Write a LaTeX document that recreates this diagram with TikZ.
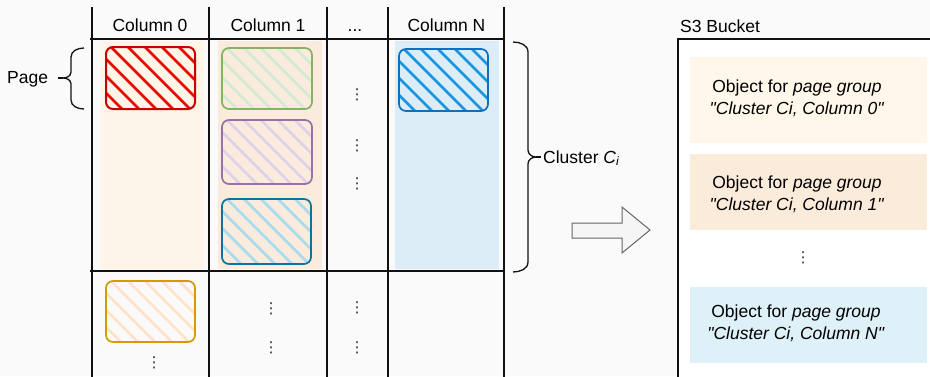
\documentclass[tikz,border=0pt]{standalone}
\usepackage{fontspec}
\setmainfont{Liberation Sans}[Ligatures=TeXOff]
\newfontfamily\dejavufont{DejaVu Sans}
\usetikzlibrary{calc}
\definecolor{bgcol}{RGB}{250,250,250}
\definecolor{gridcol}{RGB}{17,17,17}
\definecolor{colAbg}{RGB}{253,246,232}
\definecolor{colBbg}{RGB}{250,235,220}
\definecolor{colNbg}{RGB}{220,237,247}
\definecolor{objA}{RGB}{255,248,234}
\definecolor{objB}{RGB}{251,235,219}
\definecolor{objN}{RGB}{222,240,248}
\definecolor{redS}{RGB}{200,0,0}
\definecolor{redH}{RGB}{230,10,0}
\definecolor{greenS}{RGB}{130,179,102}
\definecolor{greenH}{RGB}{210,234,212}
\definecolor{purpleS}{RGB}{150,115,166}
\definecolor{purpleH}{RGB}{222,210,234}
\definecolor{blueAS}{RGB}{16,115,158}
\definecolor{blueAH}{RGB}{168,218,240}
\definecolor{blueNS}{RGB}{16,112,190}
\definecolor{blueNH}{RGB}{27,150,222}
\definecolor{orangeS}{RGB}{215,155,0}
\definecolor{orangeH}{RGB}{255,226,200}
\definecolor{arrowS}{RGB}{102,102,102}
\definecolor{arrowF}{RGB}{245,245,245}
\definecolor{dotcol}{RGB}{40,40,40}
\tikzset{
  txt/.style={inner sep=0pt},
  vdotsnode/.style={inner sep=0pt, text=dotcol, font=\dejavufont\fontsize{15}{15}\selectfont},
  colbg/.style={draw=none, inner sep=0pt},
  objbox/.style={draw=none, inner sep=0pt, minimum width=237pt, minimum height=76pt},
  objtext/.style={inner sep=0pt, align=center},
  pagebox/.style={draw, rounded corners=7pt, line width=1.7pt, inner sep=0pt},
  hatch/.style={path picture={
    \foreach \k in {0,...,10}{
      \draw[#1, line width=2.6pt, line cap=round]
        ([xshift=\k*17pt-80pt]path picture bounding box.north west) -- ++(95pt,-95pt);
    }}},
  gridv/.style={draw=gridcol, line width=1.8pt},
  gridh/.style={draw=gridcol, line width=2.8pt},
  bracestyle/.style={draw=gridcol, line width=1.3pt},
}
\begin{document}
\begin{tikzpicture}[x=1pt,y=-1pt,font=\fontsize{17.5}{22}\selectfont]
\useasboundingbox (0,0) rectangle (930,376);
\fill[bgcol] (0,0) rectangle (930,376);

% column backgrounds
\node[colbg, fill=colAbg, minimum width=104pt, minimum height=228pt] (bg0) at (152,155) {};
\node[colbg, fill=colBbg, minimum width=104pt, minimum height=228pt] (bg1) at (270,155) {};
\node[colbg, fill=colNbg, minimum width=104pt, minimum height=228pt] (bgN) at (447,155) {};

% grid
\foreach \xx in {92,209,327,388,504}{
  \draw[gridv] (\xx,7) -- (\xx,377);
}
\draw[gridh] (90,39) -- (505,39);
\draw[gridh] (90,271) -- (505,271);

% headers
\node[txt, anchor=base] (h0) at (150,31) {Column 0};
\node[txt, anchor=base] (h1) at (268,31) {Column 1};
\node[txt, anchor=base] (hd) at (355,31) {...};
\node[txt, anchor=base] (hN) at (446.5,31) {Column N};

% pages
\node[pagebox, draw=redS, line width=2pt, hatch=redH, minimum width=89pt, minimum height=62pt] (pR) at (150.5,78) {};
\node[pagebox, draw=greenS, hatch=greenH, minimum width=90pt, minimum height=61pt] (pG) at (267,78.5) {};
\node[pagebox, draw=purpleS, hatch=purpleH, minimum width=90pt, minimum height=64pt] (pP) at (267,152) {};
\node[pagebox, draw=blueAS, hatch=blueAH, minimum width=89pt, minimum height=65pt] (pB) at (266.5,231.5) {};
\node[pagebox, draw=blueNS, hatch=blueNH, minimum width=89pt, minimum height=62pt] (pN) at (443.5,80) {};
\node[pagebox, draw=orangeS, hatch=orangeH, minimum width=89pt, minimum height=61pt] (pO) at (150.5,311.5) {};

% vertical dots
\node[vdotsnode] (d1) at (357,95) {⋮};
\node[vdotsnode] (d2) at (357,146) {⋮};
\node[vdotsnode] (d3) at (357,184) {⋮};
\node[vdotsnode] (d4) at (357,308) {⋮};
\node[vdotsnode] (d5) at (357,348) {⋮};
\node[vdotsnode] (d6) at (271,309) {⋮};
\node[vdotsnode] (d7) at (271,348) {⋮};
\node[vdotsnode] (d8) at (154,363) {⋮};

% page brace
\node[txt, anchor=base west] (pg) at (7,83) {Page};
\draw[bracestyle] (84,48) to[out=180,in=90] (71,57) -- (71,72) to[out=-90,in=0] (63,78)
  to[out=0,in=90] (71,84) -- (71,100) to[out=-90,in=180] (84,109);
\draw[bracestyle] (58,78) -- (63,78);

% cluster brace
\draw[bracestyle] (513,42) to[out=0,in=90] (528,52) -- (528,150) to[out=-90,in=180] (536,157)
  to[out=180,in=90] (528,164) -- (528,262) to[out=-90,in=0] (513,272);
\draw[bracestyle] (536,157) -- (541,157);
\node[txt, anchor=base west] (cl) at (543,163) {Cluster \textit{C}\textsubscript{\textit{i}}};

% block arrow
\draw[draw=arrowS, fill=arrowF, line width=1pt, line join=miter]
  (572,223) -- (622,223) -- (622,207) -- (650,230) -- (622,253) -- (622,238) -- (572,238) -- cycle;

% S3 bucket
\node[txt, anchor=base west] (s3) at (680,32) {S3 Bucket};
\draw[draw=gridcol, line width=1.5pt, fill=white] (678,380) -- (678,39) -- (935,39) -- (935,380);

\node[objbox, fill=objA, minimum height=86pt] (o1) at (808.5,100) {};
\node[objbox, fill=objB, minimum height=76pt] (o2) at (808.5,192) {};
\node[objbox, fill=objN, minimum height=76pt] (o3) at (808.5,325) {};
\node[objtext] (t1) at (797,98) {Object for \textit{page group}\\\textit{"Cluster Ci, Column 0"}};
\node[objtext] (t2) at (797,194) {Object for \textit{page group}\\\textit{"Cluster Ci, Column 1"}};
\node[objtext] (t3) at (796,323) {Object for \textit{page group}\\\textit{"Cluster Ci, Column N"}};
\node[vdotsnode] (d9) at (803,258) {⋮};
\end{tikzpicture}
\end{document}
